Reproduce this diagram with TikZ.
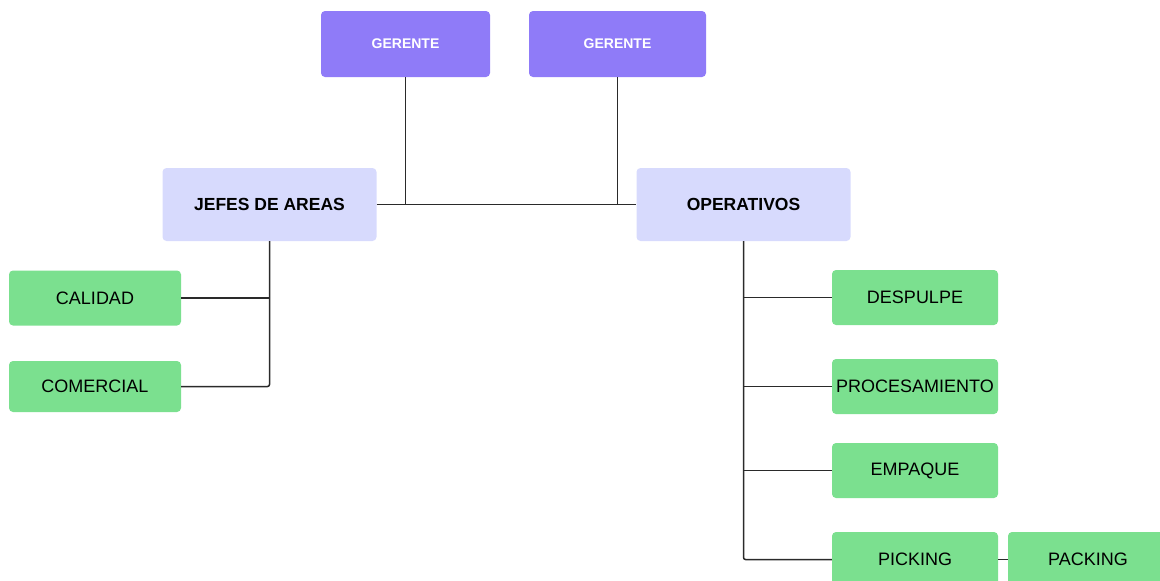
\documentclass[tikz,border=0pt]{standalone}
\usepackage{fontspec}
\setmainfont{Liberation Sans}
\definecolor{morado}{HTML}{8F7BF8}
\definecolor{lila}{HTML}{D7DAFD}
\definecolor{verde}{HTML}{7BE08F}
\definecolor{linea}{HTML}{2A2A2A}
\tikzset{
	gerente/.style={rectangle,rounded corners=4pt,fill=morado,text=white,minimum width=#1,minimum height=66pt,font=\fontsize{14}{15}\selectfont\bfseries},
	jefe/.style={rectangle,rounded corners=4pt,fill=lila,minimum width=214pt,minimum height=73pt,font=\fontsize{17.5}{19}\selectfont\bfseries},
	area/.style={rectangle,rounded corners=4pt,fill=verde,minimum width=#1,minimum height=55pt,inner sep=0pt,font=\fontsize{18}{20}\selectfont},
	conector/.style={draw=linea,line width=1.5pt,rounded corners=2pt}
}
\begin{document}
\begin{tikzpicture}[x=1pt,y=-1pt]
						\useasboundingbox (0,0) rectangle (1160,581);

						\node [gerente=169pt] (g1) at (405.5,44) {GERENTE};
						\node [gerente=177pt] (g2) at (617.5,44) {GERENTE};
						\node [jefe] (jefes) at (269.5,204.5) {JEFES DE AREAS};
						\node [jefe] (oper) at (743.5,204.5) {OPERATIVOS};

						\node [area=172pt,minimum height=55pt] (calidad) at (95,298) {CALIDAD};
						\node [area=172pt,minimum height=51pt] (comercial) at (95,386.5) {COMERCIAL};
						\node [area=166pt] (despulpe) at (915,297.5) {DESPULPE};
						\node [area=166pt] (proc) at (915,386.5) {PROCESAMIENTO};
						\node [area=166pt] (empaque) at (915,470.5) {EMPAQUE};
						\node [area=166pt] (picking) at (915,559.5) {PICKING};
						\node [area=160pt] (packing) at (1088,559.5) {PACKING};

						\draw [conector] (jefes.east) -- (oper.west);
						\draw [conector] (g1.south) -- (g1.south |- jefes.east);
						\draw [conector] (g2.south) -- (g2.south |- oper.west);

						\draw [conector] (jefes.south) |- (comercial.east);
						\draw [conector] (jefes.south |- calidad.east) -- (calidad.east);

						\draw [conector] (oper.south) |- (picking.west);
						\draw [conector] (oper.south |- despulpe.west) -- (despulpe.west);
						\draw [conector] (oper.south |- proc.west) -- (proc.west);
						\draw [conector] (oper.south |- empaque.west) -- (empaque.west);
						\draw [conector] (picking.east) -- (packing.west);
					\end{tikzpicture}
\end{document}
